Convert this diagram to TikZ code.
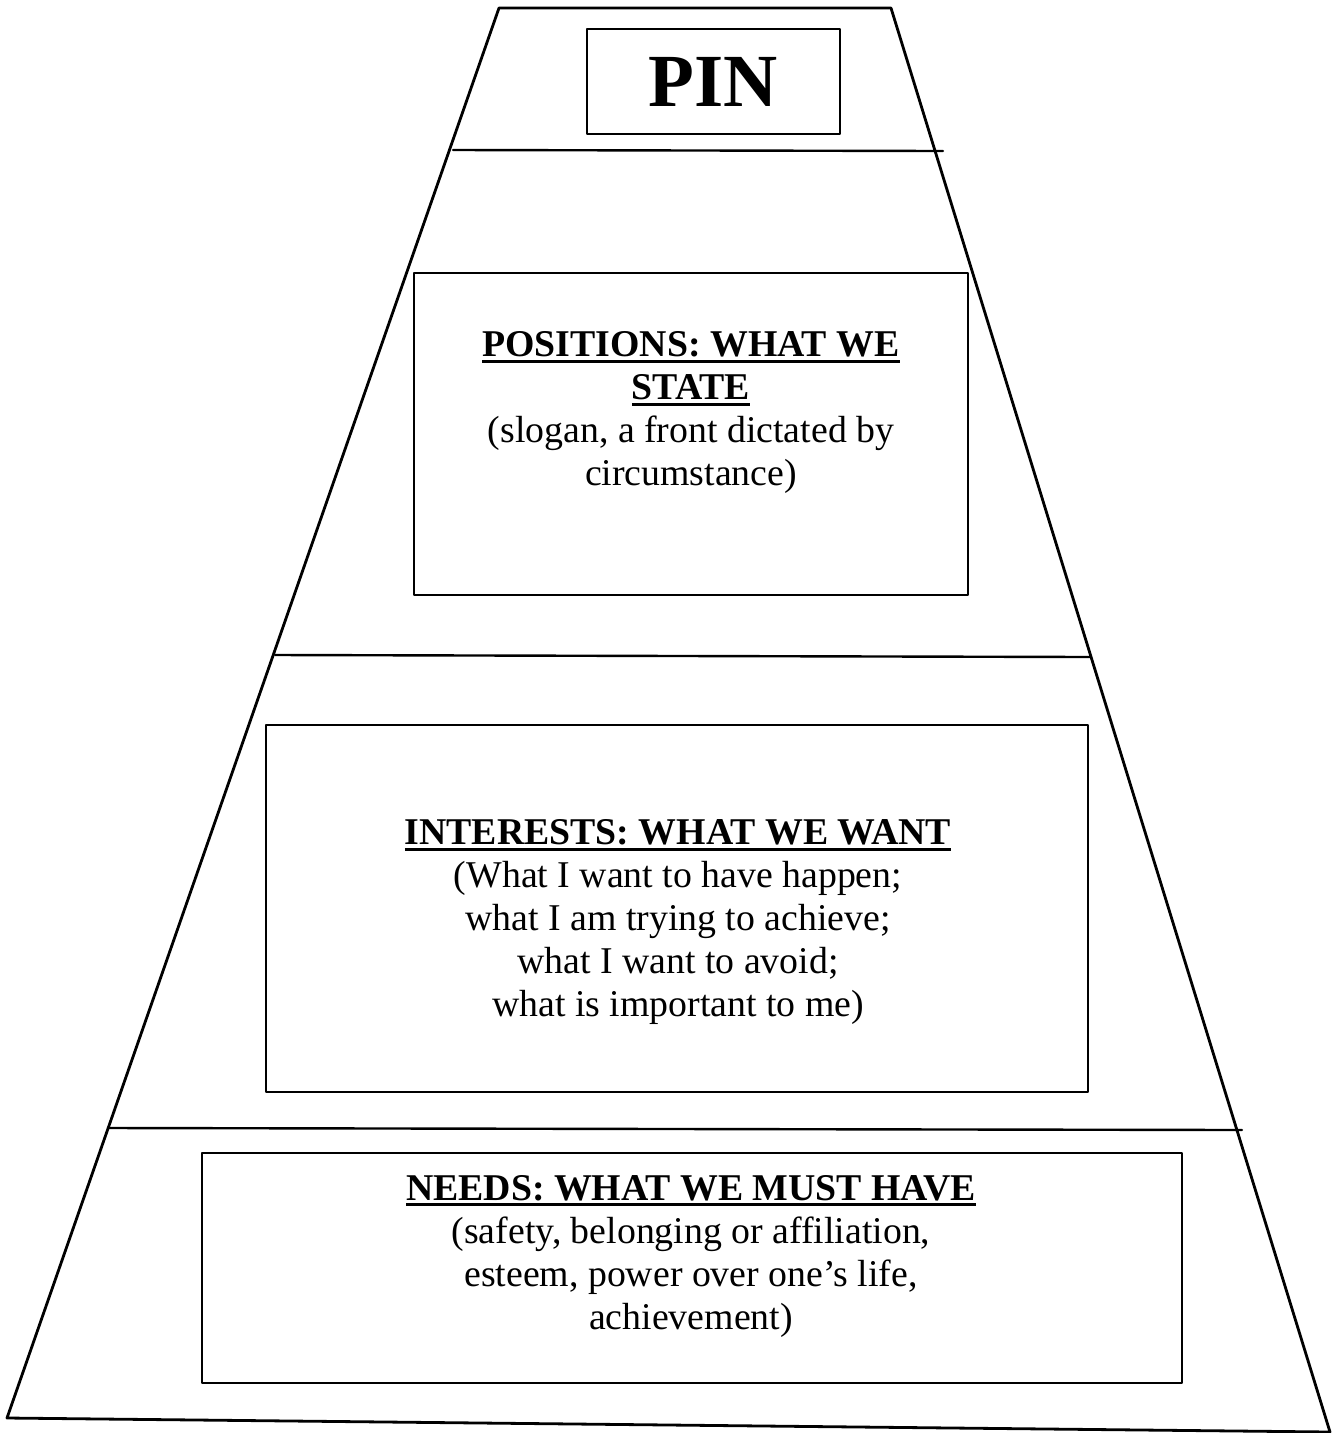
\documentclass[tikz,border=0pt]{standalone}
\usepackage{fontspec}
\setmainfont{Liberation Serif}
\begin{document}
\begin{tikzpicture}[x=1pt, y=-1pt, line join=round, line cap=round,
	box/.style={draw, line width=2.6pt, inner sep=0pt},
	txt/.style={align=center, font=\fontsize{37.8}{43}\selectfont}]
	\def\hd#1{\setbox0\hbox{\textbf{#1}}\rlap{\rule[-6pt]{\wd0}{2.8pt}}\box0}
	\useasboundingbox (0,0) rectangle (1332,1433);
	% pyramid outline and layers
	\draw[line width=2.8pt] (499,8)--(891,8)--(1330,1432)--(7,1418)--cycle;
	\draw[line width=2.4pt] (453,150)--(943,151) (275,655)--(1090,657) (108,1128)--(1242,1130);
	% boxes
	\node[box, minimum width=253, minimum height=105, font=\fontsize{75}{80}\selectfont\bfseries] (pin) at (713.5,81.5) {PIN};
	\node[box, minimum width=554, minimum height=322] (pos) at (691,434) {};
	\node[box, minimum width=822, minimum height=367] (int) at (677,908.5) {};
	\node[box, minimum width=980, minimum height=230] (need) at (692,1268) {};
	% texts
	\node[txt] (postxt) at (691,413) {\hd{POSITIONS: WHAT WE}\\\hd{STATE}\\(slogan, a front dictated by\\circumstance)};
	\node[txt] (inttxt) at (678,922) {\hd{INTERESTS: WHAT WE WANT}\\(What I want to have happen;\\what I am trying to achieve;\\what I want to avoid;\\what is important to me)};
	\node[txt] (needtxt) at (691,1256) {\hd{NEEDS: WHAT WE MUST HAVE}\\(safety, belonging or affiliation,\\esteem, power over one’s life,\\achievement)};
\end{tikzpicture}
\end{document}
